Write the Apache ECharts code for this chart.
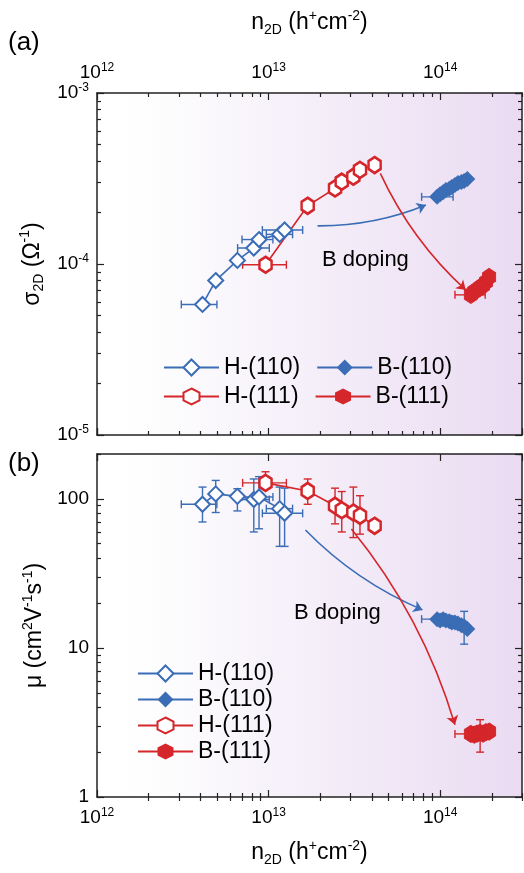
<!DOCTYPE html>
<html><head><meta charset="utf-8">
<script src="https://cdn.jsdelivr.net/npm/echarts@6/dist/echarts.min.js"></script>
<style>html,body{margin:0;padding:0;background:#fff}#c{width:524px;height:873px}</style>
</head><body><div id="c"></div>
<script>
// ---------------- data ----------------
const h110_n     = [4.12e12, 4.92e12, 6.58e12, 8.2e12, 8.8e12, 1.16e13, 1.24e13];
const h110_sigma = [5.8e-5, 8.0e-5, 1.05e-4, 1.24e-4, 1.39e-4, 1.49e-4, 1.58e-4];
const h110_mu    = [92, 108, 104, 99, 103, 86, 80];
const h110_nErr  = [[3.1e12, 5.0e12], null, null, [6.6e12, 1.01e13], [7.0e12, 1.06e13], [9.7e12, 1.38e13], [9.2e12, 1.58e13]];
const h110_muErr = [[70, 120], [81, 133], [83, 117], [60, 136], [63, 141], [48, 120], [48, 118]];

const h111_n     = [9.6e12, 1.69e13, 2.44e13, 2.67e13, 3.12e13, 3.41e13, 4.15e13];
const h111_sigma = [9.9e-5, 2.19e-4, 2.77e-4, 3.03e-4, 3.24e-4, 3.55e-4, 3.79e-4];
const h111_mu    = [128, 113, 90, 84, 81, 77, 66];
const h111_nErr  = [[7.06e12, 1.27e13], [1.6e13, 1.8e13], [2.3e13, 2.6e13], null, null, null, null];
const h111_muErr = [[117, 152], [92, 136], [68, 118], [60, 112], [55, 120], [58, 105], [60, 72]];

const b110_n     = [9.6e13, 1.0e14, 1.04e14, 1.08e14, 1.13e14, 1.17e14, 1.22e14, 1.27e14, 1.33e14, 1.38e14, 1.44e14];
const b110_sigma = [2.47e-4, 2.56e-4, 2.63e-4, 2.71e-4, 2.75e-4, 2.82e-4, 2.90e-4, 2.98e-4, 3.02e-4, 3.06e-4, 3.14e-4];
const b110_mu    = [15.6, 15.3, 15.6, 15.3, 15.1, 14.8, 14.8, 14.6, 14.2, 14.0, 13.4];
const b110_nErr  = [[7.8e13, 1.19e14], null, null, null, null, null, null, null, null, null, null];
const b110_muErr = [null, null, null, null, null, null, null, null, null, [10.6, 17.6], null];

const b111_n     = [1.51e14, 1.58e14, 1.64e14, 1.71e14, 1.78e14, 1.85e14, 1.93e14];
const b111_sigma = [6.6e-5, 6.9e-5, 7.05e-5, 7.3e-5, 7.5e-5, 7.85e-5, 8.4e-5];
const b111_mu    = [2.65, 2.62, 2.66, 2.70, 2.66, 2.72, 2.75];
const b111_nErr  = [[1.22e14, 1.83e14], null, null, null, null, null, null];
const b111_muErr = [null, null, null, [2.0, 3.3], null, null, null];

// annotation arrows (start, end) in data units
const arrowA_blue = [[1.93e13, 1.67e-4], [8.26e13, 2.21e-4]];
const arrowA_red  = [[4.48e13, 3.39e-4], [1.41e14, 7.05e-5]];
const arrowB_blue = [[1.64e13, 61.8], [7.89e13, 18.0]];
const arrowB_red  = [[3.04e13, 62.8], [1.22e14, 3.05]];

// axis ranges / tick labels
const xRange = [1e12, 3e14];
const sigmaRange = [1e-5, 1e-3];
const muRange = [1, 200];
const xDecades = [1e12, 1e13, 1e14];
const sigmaDecades = [1e-5, 1e-4];
const muDecades = [1, 10, 100];
const minorMult = [2, 3, 4, 5, 6, 7, 8, 9];
const legendNames = ['H-(110)', 'B-(110)', 'H-(111)', 'B-(111)'];

// ---------------- styling ----------------
const FONT = '"Liberation Sans", Arial, Helvetica, sans-serif';
const BLUE = '#3A6DB5', RED = '#D4262B', AX = '#222';
const HEX = 'path://M0,-10L8.66,-5L8.66,5L0,10L-8.66,5L-8.66,-5Z';

function minorLogs(decades, range) {
  const out = [];
  decades.forEach(d => minorMult.forEach(m => {
    const v = d * m;
    if (v > range[0] && v <= range[1] * 1.0001) out.push(Math.log10(v));
  }));
  return out;
}
const xMinor = minorLogs(xDecades, xRange);
const sigmaMinor = minorLogs(sigmaDecades, sigmaRange);
const muMinor = minorLogs(muDecades, muRange);

const labRich = {
  b: {fontSize: 19, fontFamily: FONT, color: '#000', lineHeight: 22},
  s: {fontSize: 12, fontFamily: FONT, color: '#000', lineHeight: 12, verticalAlign: 'top'}
};
function isDecade(v) { const l = Math.log10(v); return Math.abs(l - Math.round(l)) < 1e-6; }
function powLabel(v) { return isDecade(v) ? '{b|10}{s|' + Math.round(Math.log10(v)) + '}' : ''; }
function plainLabel(v) { return isDecade(v) ? '{b|' + Math.round(v) + '}' : ''; }

const nameRich = {
  n: {fontSize: 23, fontFamily: FONT, color: '#000', lineHeight: 28},
  sub: {fontSize: 14, fontFamily: FONT, color: '#000', lineHeight: 14, verticalAlign: 'bottom'},
  sup: {fontSize: 14, fontFamily: FONT, color: '#000', lineHeight: 14, verticalAlign: 'top'}
};
const xName = '{n|n}{sub|2D}{n| (h}{sup|+}{n|cm}{sup|-2}{n|)}';

const bg = {type: 'linear', x: 0, y: 0, x2: 1, y2: 0, colorStops: [
  {offset: 0, color: '#ffffff'}, {offset: 0.12, color: '#fefefe'},
  {offset: 0.5, color: '#f5eff9'}, {offset: 1, color: '#eadbf2'}]};

function logAxis(grid, pos, range, showLabel, extra) {
  return Object.assign({
    type: 'log', gridIndex: grid, position: pos, min: range[0], max: range[1], logBase: 10,
    axisLine: {show: true, onZero: false, lineStyle: {color: AX, width: 1.5}},
    axisTick: {show: true, inside: true, length: 7, lineStyle: {color: AX, width: 1.2}},
    axisLabel: {show: showLabel},
    splitLine: {show: false}, minorTick: {show: false}
  }, extra || {});
}
function minorAxis(grid, pos, range, ticks) {
  return {
    type: 'value', gridIndex: grid, position: pos, min: Math.log10(range[0]), max: Math.log10(range[1]),
    axisLine: {show: false}, axisLabel: {show: false}, splitLine: {show: false},
    axisTick: {show: true, inside: true, length: 4, customValues: ticks, lineStyle: {color: AX, width: 1.2}}
  };
}

function zip(a, b) { return a.map((v, i) => [v, b[i]]); }

function errSeries(nArr, yArr, nErr, yErr, color, xi, yi) {
  const data = nArr.map((x, i) => {
    const y = yArr[i];
    const ne = nErr && nErr[i], ye = yErr && yErr[i];
    return [x, y, ne ? ne[0] : x, ne ? ne[1] : x, ye ? ye[0] : y, ye ? ye[1] : y];
  });
  return {
    type: 'custom', xAxisIndex: xi, yAxisIndex: yi, z: 1, silent: true, data,
    encode: {x: [0, 2, 3], y: [1, 4, 5]},
    renderItem(params, api) {
      const x = api.value(0), y = api.value(1), xl = api.value(2), xh = api.value(3), yl = api.value(4), yh = api.value(5);
      const c = api.coord([x, y]);
      const st = {stroke: color, lineWidth: 1.4, fill: null};
      const cap = 4, ch = [];
      const L = (x1, y1, x2, y2) => ch.push({type: 'line', shape: {x1, y1, x2, y2}, style: st});
      if (xl !== x || xh !== x) {
        const a = api.coord([xl, y])[0], b = api.coord([xh, y])[0];
        L(a, c[1], b, c[1]); L(a, c[1] - cap, a, c[1] + cap); L(b, c[1] - cap, b, c[1] + cap);
      }
      if (yl !== y || yh !== y) {
        const a = api.coord([x, yl])[1], b = api.coord([x, yh])[1];
        L(c[0], a, c[0], b); L(c[0] - cap, a, c[0] + cap, a); L(c[0] - cap, b, c[0] + cap, b);
      }
      return {type: 'group', children: ch};
    }
  };
}

function lineSeries(name, n, y, xi, yi, kind) {
  const s = {type: 'line', name, xAxisIndex: xi, yAxisIndex: yi, data: zip(n, y), z: 3,
    lineStyle: {width: 1.6}, symbolKeepAspect: true, animation: false};
  if (kind === 'h110') { Object.assign(s, {symbol: 'emptyDiamond', symbolSize: 15, lineStyle: {color: BLUE, width: 1.6}, itemStyle: {color: BLUE, borderColor: BLUE, borderWidth: 2.4}}); }
  if (kind === 'b110') { Object.assign(s, {symbol: 'diamond', symbolSize: 16, lineStyle: {color: BLUE, width: 1.6}, itemStyle: {color: BLUE}}); }
  if (kind === 'h111') { Object.assign(s, {symbol: HEX, symbolSize: [14, 16], lineStyle: {color: RED, width: 1.6}, itemStyle: {color: '#fff', borderColor: RED, borderWidth: 2.6}}); }
  if (kind === 'b111') { Object.assign(s, {symbol: HEX, symbolSize: [15, 17], lineStyle: {color: RED, width: 1.6}, itemStyle: {color: RED, borderColor: RED}}); }
  return s;
}
function arrow(coords, color, curv, xi, yi) {
  return {type: 'lines', coordinateSystem: 'cartesian2d', xAxisIndex: xi, yAxisIndex: yi, z: 4, silent: true,
    symbol: ['none', 'arrow'], symbolSize: 9,
    lineStyle: {color, width: 1.6, curveness: curv, opacity: 1},
    data: [{coords}]};
}

const legendText = {fontSize: 23, fontFamily: FONT, color: '#000'};

const option = {
  animation: false,
  backgroundColor: '#fff',
  grid: [
    {left: 97, top: 93, width: 425, height: 342, show: true, borderWidth: 0, backgroundColor: bg, outerBoundsMode: 'none'},
    {left: 97, top: 454, width: 425, height: 343, show: true, borderWidth: 0, backgroundColor: bg, outerBoundsMode: 'none'}
  ],
  xAxis: [
    logAxis(0, 'top', xRange, true, {
      axisLabel: {show: true, formatter: powLabel, rich: labRich, margin: 9, showMaxLabel: false},
      name: xName, nameLocation: 'middle', nameGap: 56, nameTextStyle: {rich: nameRich}}),
    logAxis(0, 'bottom', xRange, false),
    minorAxis(0, 'top', xRange, xMinor),
    minorAxis(0, 'bottom', xRange, xMinor),
    logAxis(1, 'bottom', xRange, true, {
      axisLabel: {show: true, formatter: powLabel, rich: labRich, margin: 10, showMaxLabel: false},
      name: xName, nameLocation: 'middle', nameGap: 42, nameTextStyle: {rich: nameRich}}),
    logAxis(1, 'top', xRange, false),
    minorAxis(1, 'bottom', xRange, xMinor),
    minorAxis(1, 'top', xRange, xMinor)
  ],
  yAxis: [
    logAxis(0, 'left', sigmaRange, true, {
      axisLabel: {show: true, formatter: powLabel, rich: labRich, margin: 8},
      name: '{n|σ}{sub|2D}{n| (Ω}{sup|-1}{n|)}', nameLocation: 'middle', nameRotate: 90, nameGap: 50, nameTextStyle: {rich: nameRich}}),
    logAxis(0, 'right', sigmaRange, false),
    minorAxis(0, 'left', sigmaRange, sigmaMinor),
    minorAxis(0, 'right', sigmaRange, sigmaMinor),
    logAxis(1, 'left', muRange, true, {
      axisLabel: {show: true, formatter: plainLabel, rich: labRich, margin: 8, showMaxLabel: false},
      name: '{n|μ (cm}{sup|2}{n|V}{sup|-1}{n|s}{sup|-1}{n|)}', nameLocation: 'middle', nameRotate: 90, nameGap: 46, nameTextStyle: {rich: nameRich}}),
    logAxis(1, 'right', muRange, false),
    minorAxis(1, 'left', muRange, muMinor),
    minorAxis(1, 'right', muRange, muMinor)
  ],
  legend: [
    {data: legendNames.slice(0, 2), left: 158, top: 351, itemWidth: 55, itemHeight: 20, itemGap: 16, textStyle: legendText, selectedMode: false},
    {data: legendNames.slice(2, 4), left: 158, top: 380, itemWidth: 55, itemHeight: 20, itemGap: 16, textStyle: legendText, selectedMode: false},
    {data: legendNames, orient: 'vertical', left: 132, top: 657, itemWidth: 55, itemHeight: 20, itemGap: 3, textStyle: legendText, selectedMode: false}
  ],
  graphic: [
    {type: 'text', left: 8, top: 30, style: {text: '(a)', fontSize: 26, fontFamily: FONT, fill: '#000'}},
    {type: 'text', left: 8, top: 451, style: {text: '(b)', fontSize: 26, fontFamily: FONT, fill: '#000'}},
    {type: 'text', left: 322, top: 249, style: {text: 'B doping', fontSize: 22, fontFamily: FONT, fill: '#000'}},
    {type: 'text', left: 294, top: 602, style: {text: 'B doping', fontSize: 22, fontFamily: FONT, fill: '#000'}}
  ],
  series: [
    errSeries(h110_n, h110_sigma, h110_nErr, null, BLUE, 0, 0),
    errSeries(h111_n, h111_sigma, h111_nErr, null, RED, 0, 0),
    errSeries(b110_n, b110_sigma, b110_nErr, null, BLUE, 0, 0),
    errSeries(b111_n, b111_sigma, b111_nErr, null, RED, 0, 0),
    lineSeries('H-(110)', h110_n, h110_sigma, 0, 0, 'h110'),
    lineSeries('B-(110)', b110_n, b110_sigma, 0, 0, 'b110'),
    lineSeries('H-(111)', h111_n, h111_sigma, 0, 0, 'h111'),
    lineSeries('B-(111)', b111_n, b111_sigma, 0, 0, 'b111'),
    arrow(arrowA_blue, BLUE, -0.1, 0, 0),
    arrow(arrowA_red, RED, -0.1, 0, 0),

    errSeries(h110_n, h110_mu, h110_nErr, h110_muErr, BLUE, 4, 4),
    errSeries(h111_n, h111_mu, h111_nErr, h111_muErr, RED, 4, 4),
    errSeries(b110_n, b110_mu, b110_nErr, b110_muErr, BLUE, 4, 4),
    errSeries(b111_n, b111_mu, b111_nErr, b111_muErr, RED, 4, 4),
    lineSeries('H-(110)', h110_n, h110_mu, 4, 4, 'h110'),
    lineSeries('B-(110)', b110_n, b110_mu, 4, 4, 'b110'),
    lineSeries('H-(111)', h111_n, h111_mu, 4, 4, 'h111'),
    lineSeries('B-(111)', b111_n, b111_mu, 4, 4, 'b111'),
    arrow(arrowB_blue, BLUE, -0.1, 4, 4),
    arrow(arrowB_red, RED, 0.1, 4, 4)
  ]
};
const chart = echarts.init(document.getElementById('c'), null, {renderer: 'canvas'});
chart.setOption(option);
</script>
</body></html>
